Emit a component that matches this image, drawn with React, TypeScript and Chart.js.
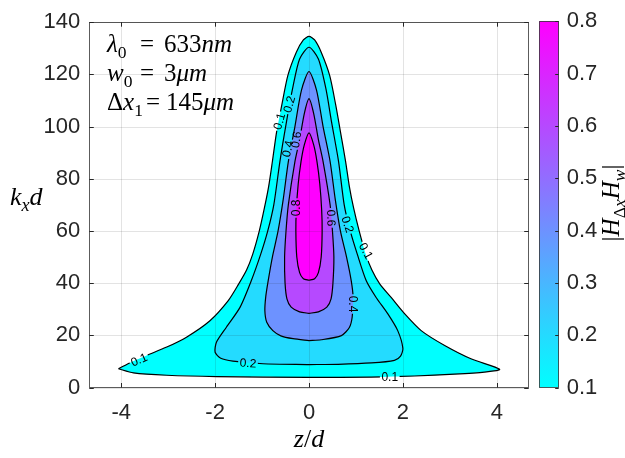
import React, { useEffect, useRef } from 'react';
import { Chart, registerables } from 'chart.js';
Chart.register(...registerables);

// ---- data ----
const xTickValues = [-4, -2, 0, 2, 4];
const yTickValues = [0, 20, 40, 60, 80, 100, 120, 140];
const colorbarTicks = [0.1, 0.2, 0.3, 0.4, 0.5, 0.6, 0.7, 0.8];
const contourLevels = [0.1, 0.2, 0.4, 0.6, 0.8];

// contour outlines (z/d, kx d)
const contour01: [number, number][] = [
  [-4.06, 7.2], [-3.78, 9.8], [-3.46, 12.3], [-3.03, 15.5], [-2.61, 19.3], [-2.11, 25.6],
  [-1.72, 33.3], [-1.5, 39.6], [-1.33, 45], [-1.2, 51], [-1.06, 59.9], [-0.95, 68.8],
  [-0.86, 77], [-0.78, 86.6], [-0.69, 98], [-0.58, 108.2], [-0.45, 119.6], [-0.27, 128.5],
  [-0.12, 133.2], [0, 134.6], [0.12, 133.2], [0.26, 128.5], [0.44, 119.6], [0.57, 108.2],
  [0.67, 98], [0.78, 86.6], [0.86, 77], [0.95, 68.8], [1.07, 59.9], [1.21, 51], [1.34, 45],
  [1.51, 39.6], [1.75, 34.5], [2.04, 28.2], [2.39, 21.8], [2.89, 16.1], [3.45, 11.0],
  [4.06, 7.0], [3.74, 5.9], [3.1, 5.1], [2.25, 4.4], [1.33, 4.0], [0, 3.9], [-1.97, 4.2],
  [-3.03, 4.7], [-3.74, 5.6], [-4.06, 7.2],
];
const contour02: [number, number][] = [
  [0, 8.8], [-0.98, 9.1], [-1.62, 10.1], [-1.88, 11.2], [-2.0, 13.5], [-1.97, 17.4],
  [-1.76, 23.1], [-1.47, 30.7], [-1.23, 40.9], [-1.03, 51], [-0.88, 59.9], [-0.75, 70],
  [-0.62, 86.6], [-0.48, 101.8], [-0.35, 114.5], [-0.2, 125.9], [0, 130.4], [0.2, 125.9],
  [0.36, 114.5], [0.48, 101.8], [0.63, 86.6], [0.75, 70], [0.88, 59.9], [1.03, 51],
  [1.22, 40.9], [1.43, 34.5], [1.68, 28.2], [1.89, 21.8], [2.0, 15], [1.95, 12],
  [1.82, 10.4], [1.33, 9.4], [0.62, 8.9], [0, 8.8],
];
const contour04: [number, number][] = [
  [0, 18.0], [-0.34, 18.7], [-0.6, 19.8], [-0.77, 21.8], [-0.9, 25], [-0.94, 29.4],
  [-0.92, 35], [-0.87, 40.9], [-0.78, 50], [-0.66, 59.9], [-0.55, 72], [-0.44, 86.6],
  [-0.3, 100], [-0.16, 114], [0, 121.1], [0.16, 114], [0.3, 100], [0.45, 86.6],
  [0.56, 72], [0.67, 59.9], [0.8, 50], [0.9, 40.9], [0.94, 34.5], [0.92, 27],
  [0.86, 23], [0.69, 19.9], [0.26, 18.3], [0, 18.0],
];
const contour06: [number, number][] = [
  [0, 28.4], [-0.2, 29.0], [-0.38, 30.8], [-0.47, 34], [-0.51, 40], [-0.52, 50],
  [-0.49, 59.9], [-0.44, 70], [-0.3, 86.6], [-0.2, 95], [-0.1, 105], [0, 110.7],
  [0.1, 105], [0.2, 95], [0.3, 86.6], [0.45, 70], [0.5, 59.9], [0.53, 50], [0.51, 40],
  [0.47, 34], [0.38, 30.8], [0.2, 29.0], [0, 28.4],
];
const contour08: [number, number][] = [
  [0, 41.1], [-0.12, 41.7], [-0.2, 44], [-0.26, 50], [-0.28, 60], [-0.27, 68],
  [-0.23, 78], [-0.17, 86.6], [-0.1, 93], [0, 97.6], [0.1, 93], [0.17, 86.6], [0.23, 78],
  [0.27, 68], [0.28, 60], [0.26, 50], [0.2, 44], [0.12, 41.7], [0, 41.1],
];
const contours = [contour01, contour02, contour04, contour06, contour08];

// inline contour labels: text, level index, position (z/d, kx d), angle (deg)
const contourLabels = [
  { text: '0.1', level: 0, x: -3.62, y: 10.6, angle: -24 },
  { text: '0.2', level: 1, x: -1.3, y: 9.3, angle: 3 },
  { text: '0.1', level: 0, x: 1.72, y: 4.0, angle: 0 },
  { text: '0.4', level: 2, x: 0.93, y: 32, angle: 90 },
  { text: '0.2', level: 1, x: 0.82, y: 62.5, angle: 72 },
  { text: '0.1', level: 0, x: 1.21, y: 52.3, angle: 62 },
  { text: '0.6', level: 3, x: 0.47, y: 65, angle: 88 },
  { text: '0.8', level: 4, x: -0.275, y: 68.8, angle: -90 },
  { text: '0.1', level: 0, x: -0.63, y: 102, angle: -74 },
  { text: '0.2', level: 1, x: -0.42, y: 108.5, angle: -74 },
  { text: '0.4', level: 2, x: -0.45, y: 91.5, angle: -78 },
  { text: '0.6', level: 3, x: -0.27, y: 95, angle: -80 },
];

// ---- styles ----
const fillColors = ['rgb(0,255,255)', 'rgb(36,219,255)', 'rgb(109,146,255)', 'rgb(182,73,255)', 'rgb(255,0,255)'];
const SANS = "'Liberation Sans', Arial, Helvetica, sans-serif";
const SERIF = "'Liberation Serif', 'DejaVu Serif', 'Times New Roman', serif";
const AXIS_COLOR = '#262626';

type Seg = { t: string; it?: boolean; sub?: boolean };
function drawRich(ctx: CanvasRenderingContext2D, segs: Seg[], x: number, y: number, size: number) {
  let cx = x;
  for (const s of segs) {
    const fs = s.sub ? size * 0.7 : size;
    ctx.font = `${s.it ? 'italic ' : ''}${fs}px ${SERIF}`;
    ctx.fillText(s.t, cx, s.sub ? y + size * 0.22 : y);
    cx += ctx.measureText(s.t).width;
  }
  return cx;
}
function richWidth(ctx: CanvasRenderingContext2D, segs: Seg[], size: number) {
  let w = 0;
  for (const s of segs) {
    const fs = s.sub ? size * 0.7 : size;
    ctx.font = `${s.it ? 'italic ' : ''}${fs}px ${SERIF}`;
    w += ctx.measureText(s.t).width;
  }
  return w;
}

const LABEL_FONT = `12px ${SANS}`;
function labelRect(ctx: CanvasRenderingContext2D, chart: any, l: any) {
  const px = chart.scales.x.getPixelForValue(l.x);
  const py = chart.scales.y.getPixelForValue(l.y);
  ctx.font = LABEL_FONT;
  const w = ctx.measureText(l.text).width + 3;
  const h = 11;
  const a = (l.angle * Math.PI) / 180;
  const c = Math.cos(a), s = Math.sin(a);
  const pts = [[-w / 2, -h / 2], [w / 2, -h / 2], [w / 2, h / 2], [-w / 2, h / 2]].map(
    ([u, v]) => [px + u * c - v * s, py + u * s + v * c]
  );
  return { px, py, a, pts };
}

const mainPlugin = {
  id: 'mainDecor',
  beforeDatasetDraw(chart: any, args: any) {
    const ds = chart.data.datasets[args.index];
    if (!ds.isStroke) return;
    const ctx = chart.ctx as CanvasRenderingContext2D;
    const ca = chart.chartArea;
    ctx.save();
    ctx.beginPath();
    ctx.rect(ca.left - 2, ca.top - 2, ca.right - ca.left + 4, ca.bottom - ca.top + 4);
    for (const l of contourLabels.filter((q) => q.level === ds.levelIndex)) {
      const r = labelRect(ctx, chart, l);
      ctx.moveTo(r.pts[0][0], r.pts[0][1]);
      for (let i = 1; i < 4; i++) ctx.lineTo(r.pts[i][0], r.pts[i][1]);
      ctx.closePath();
    }
    ctx.clip('evenodd');
  },
  afterDatasetDraw(chart: any, args: any) {
    const ds = chart.data.datasets[args.index];
    if (!ds.isStroke) return;
    chart.ctx.restore();
  },
  afterDatasetsDraw(chart: any) {
    const ctx = chart.ctx as CanvasRenderingContext2D;
    const ca = chart.chartArea;
    const xs = chart.scales.x, ys = chart.scales.y;
    ctx.save();
    // grid on top (MATLAB style)
    ctx.strokeStyle = 'rgba(38,38,38,0.13)';
    ctx.lineWidth = 1;
    for (const v of xTickValues) {
      const p = Math.round(xs.getPixelForValue(v)) + 0.5;
      ctx.beginPath(); ctx.moveTo(p, ca.top); ctx.lineTo(p, ca.bottom); ctx.stroke();
    }
    for (const v of yTickValues) {
      const p = Math.round(ys.getPixelForValue(v)) + 0.5;
      ctx.beginPath(); ctx.moveTo(ca.left, p); ctx.lineTo(ca.right, p); ctx.stroke();
    }
    // contour labels
    ctx.fillStyle = '#000';
    ctx.font = LABEL_FONT;
    ctx.textAlign = 'center';
    ctx.textBaseline = 'middle';
    for (const l of contourLabels) {
      const r = labelRect(ctx, chart, l);
      ctx.save();
      ctx.translate(r.px, r.py);
      ctx.rotate(r.a);
      ctx.fillText(l.text, 0, 0.5);
      ctx.restore();
    }
    // inward ticks
    ctx.strokeStyle = AXIS_COLOR;
    const tl = 4.5;
    for (const v of xTickValues) {
      const p = Math.round(xs.getPixelForValue(v)) + 0.5;
      ctx.beginPath(); ctx.moveTo(p, ca.bottom); ctx.lineTo(p, ca.bottom - tl); ctx.stroke();
      ctx.beginPath(); ctx.moveTo(p, ca.top); ctx.lineTo(p, ca.top + tl); ctx.stroke();
    }
    for (const v of yTickValues) {
      const p = Math.round(ys.getPixelForValue(v)) + 0.5;
      ctx.beginPath(); ctx.moveTo(ca.left, p); ctx.lineTo(ca.left + tl, p); ctx.stroke();
      ctx.beginPath(); ctx.moveTo(ca.right, p); ctx.lineTo(ca.right - tl, p); ctx.stroke();
    }
    // box
    ctx.strokeStyle = 'rgba(38,38,38,0.75)';
    ctx.strokeRect(Math.round(ca.left) + 0.5, Math.round(ca.top) + 0.5, Math.round(ca.right - ca.left), Math.round(ca.bottom - ca.top));

    // annotation text
    ctx.fillStyle = '#000';
    ctx.textAlign = 'left';
    ctx.textBaseline = 'alphabetic';
    const fs = 25;
    const lines: [Seg[], Seg[], number][] = [
      [[{ t: 'λ', it: true }, { t: '0', sub: true }], [{ t: '633' }, { t: 'nm', it: true }], 52],
      [[{ t: 'w', it: true }, { t: '0', sub: true }], [{ t: '3' }, { t: 'μm', it: true }], 81],
      [[{ t: 'Δ' }, { t: 'x', it: true }, { t: '1', sub: true }], [{ t: '145' }, { t: 'μm', it: true }], 110],
    ];
    for (const [lhs, rhs, by] of lines) {
      const end = drawRich(ctx, lhs, 107, by, fs);
      const ex = Math.max(140, end + 3);
      const e2 = drawRich(ctx, [{ t: '=' }], ex, by, fs);
      drawRich(ctx, rhs, Math.max(164, e2 + 6), by, fs);
    }

    // axis titles
    const ylab: Seg[] = [{ t: 'k', it: true }, { t: 'x', it: true, sub: true }, { t: 'd', it: true }];
    drawRich(ctx, ylab, 10, 205, 26);
    const xlab: Seg[] = [{ t: 'z', it: true }, { t: '/' }, { t: 'd', it: true }];
    const xw = richWidth(ctx, xlab, 26);
    drawRich(ctx, xlab, xs.getPixelForValue(0) - xw / 2, 447, 26);
    ctx.restore();
  },
};

const cbPlugin = {
  id: 'cbDecor',
  afterDatasetsDraw(chart: any) {
    const ctx = chart.ctx as CanvasRenderingContext2D;
    const ca = chart.chartArea;
    const ys = chart.scales.y;
    ctx.save();
    ctx.strokeStyle = AXIS_COLOR;
    ctx.lineWidth = 1;
    for (const v of colorbarTicks) {
      const p = Math.round(ys.getPixelForValue(v)) + 0.5;
      ctx.beginPath(); ctx.moveTo(ca.right, p); ctx.lineTo(ca.right - 3.5, p); ctx.stroke();
    }
    ctx.strokeStyle = 'rgba(38,38,38,0.75)';
    ctx.strokeRect(Math.round(ca.left) + 0.5, Math.round(ca.top) + 0.5, Math.round(ca.right - ca.left), Math.round(ca.bottom - ca.top));
    // colorbar label, rotated
    const segs: Seg[] = [
      { t: '|' }, { t: 'H', it: true }, { t: 'Δ', sub: true }, { t: 'x', it: true, sub: true },
      { t: 'H', it: true }, { t: 'w', it: true, sub: true }, { t: '|' },
    ];
    const size = 25;
    const w = richWidth(ctx, segs, size);
    ctx.translate(89, 203);
    ctx.rotate(-Math.PI / 2);
    ctx.fillStyle = '#000';
    ctx.textBaseline = 'alphabetic';
    drawRich(ctx, segs, -w / 2, 0, size);
    ctx.restore();
  },
};

export default function App() {
  const mainRef = useRef<HTMLCanvasElement>(null);
  const cbRef = useRef<HTMLCanvasElement>(null);

  useEffect(() => {
    document.body.style.margin = '0';
    const fillSets = contours.map((pts, i) => ({
      data: pts.map(([x, y]) => ({ x, y })),
      showLine: true,
      fill: 'shape',
      backgroundColor: fillColors[i],
      borderWidth: 0,
      borderColor: 'rgba(0,0,0,0)',
      pointRadius: 0,
      tension: 0.25,
      order: 20 - i,
      isStroke: false,
      label: `fill ${contourLevels[i]}`,
    }));
    const strokeSets = contours.map((pts, i) => ({
      data: pts.map(([x, y]) => ({ x, y })),
      showLine: true,
      fill: false,
      borderColor: '#000',
      borderWidth: 1.2,
      pointRadius: 0,
      tension: 0.25,
      order: 5 - i,
      isStroke: true,
      levelIndex: i,
      label: `line ${contourLevels[i]}`,
    }));
    const tickFont = { family: SANS, size: 22 };
    const main = new Chart(mainRef.current!, {
      type: 'scatter',
      data: { datasets: [...fillSets, ...strokeSets] as any },
      options: {
        responsive: false,
        animation: false,
        devicePixelRatio: 1,
        events: [],
        layout: { padding: { left: 0, top: 18, right: 96.3, bottom: 0 } },
        plugins: { legend: { display: false }, tooltip: { enabled: false } },
        scales: {
          x: {
            type: 'linear', min: -4.68, max: 4.68,
            afterBuildTicks: (s: any) => { s.ticks = xTickValues.map((v) => ({ value: v })); },
            ticks: { font: tickFont, color: AXIS_COLOR, padding: 12, maxRotation: 0, autoSkip: false },
            grid: { display: false, drawTicks: false },
            border: { display: false },
            afterFit: (s: any) => { s.height = 70.5; },
          },
          y: {
            type: 'linear', min: 0, max: 140,
            afterBuildTicks: (s: any) => { s.ticks = yTickValues.map((v) => ({ value: v })); },
            ticks: { font: tickFont, color: AXIS_COLOR, padding: 9, autoSkip: false },
            grid: { display: false, drawTicks: false },
            border: { display: false },
            afterFit: (s: any) => { s.width = 89.3; },
          },
        },
      } as any,
      plugins: [mainPlugin],
    });

    const cb = new Chart(cbRef.current!, {
      type: 'bar',
      data: {
        labels: ['cb'],
        datasets: [{
          data: [[0.1, 0.8]] as any,
          backgroundColor: (c: any) => {
            const a = c.chart.chartArea;
            if (!a) return fillColors[0];
            const g = c.chart.ctx.createLinearGradient(0, a.bottom, 0, a.top);
            g.addColorStop(0, 'rgb(0,255,255)');
            g.addColorStop(1, 'rgb(255,0,255)');
            return g;
          },
          borderWidth: 0,
          barPercentage: 1,
          categoryPercentage: 1,
        }],
      },
      options: {
        responsive: false,
        animation: false,
        devicePixelRatio: 1,
        events: [],
        layout: { padding: { left: 9.3, top: 17.5, right: 0, bottom: 70.5 } },
        plugins: { legend: { display: false }, tooltip: { enabled: false } },
        scales: {
          x: { display: false },
          y: {
            position: 'right', min: 0.1, max: 0.8,
            afterBuildTicks: (s: any) => { s.ticks = colorbarTicks.map((v) => ({ value: v })); },
            ticks: { font: tickFont, color: AXIS_COLOR, padding: 8, callback: (v: any) => Number(v).toFixed(1) },
            grid: { display: false, drawTicks: false },
            border: { display: false },
            afterFit: (s: any) => { s.width = 66.3; },
          },
        },
      } as any,
      plugins: [cbPlugin],
    });

    return () => { main.destroy(); cb.destroy(); };
  }, []);

  return (
    <div style={{ position: 'relative', width: 625, height: 458, background: '#fff' }}>
      <canvas ref={mainRef} width={625} height={458} style={{ position: 'absolute', left: 0, top: 0 }} />
      <canvas ref={cbRef} width={95} height={458} style={{ position: 'absolute', left: 530, top: 0 }} />
    </div>
  );
}
